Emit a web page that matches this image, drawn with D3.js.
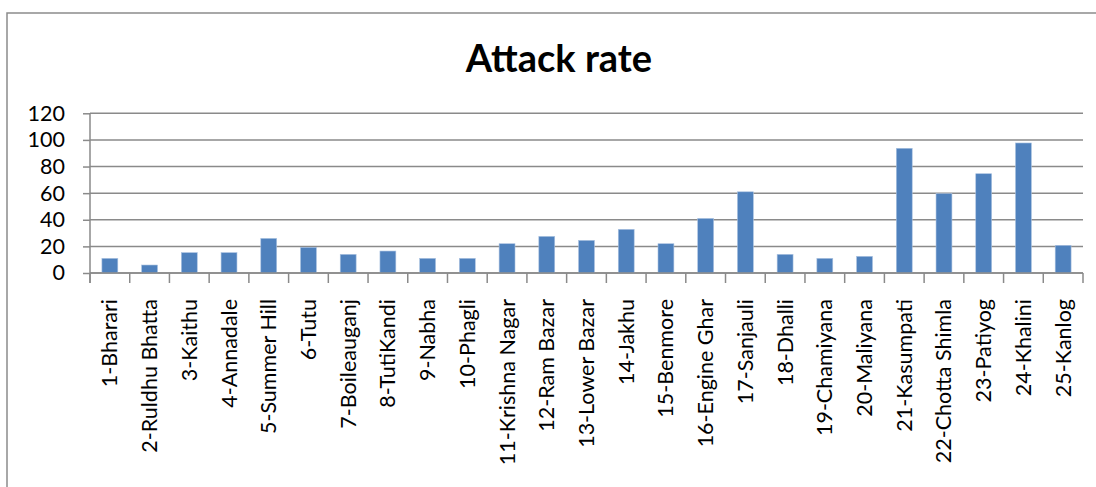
<!DOCTYPE html>
<html><head><meta charset="utf-8">
<script src="https://cdn.jsdelivr.net/npm/d3@7"></script>
<style>
html,body{margin:0;padding:0;background:#fff;}
svg{display:block;}
text{font-family:Lato, "Open Sans", sans-serif;fill:#000;}
</style></head>
<body><svg id="c" width="1096" height="487"></svg>
<script>
const title = "Attack rate";
const categories = ["1-Bharari","2-Ruldhu Bhatta","3-Kaithu","4-Annadale","5-Summer Hill","6-Tutu","7-Boileauganj","8-TutiKandi","9-Nabha","10-Phagli","11-Krishna Nagar","12-Ram Bazar","13-Lower Bazar","14-Jakhu","15-Benmore","16-Engine Ghar","17-Sanjauli","18-Dhalli","19-Chamiyana","20-Maliyana","21-Kasumpati","22-Chotta Shimla","23-Patiyog","24-Khalini","25-Kanlog"];
const values = [11,6,15.3,15.3,26,19.3,14,16.5,11,11,22,27.5,24.5,32.8,22,41,61,14,11,12.5,93.7,59.6,74.6,97.7,20.8];
const yTicks = [0,20,40,60,80,100,120];

const svg = d3.select("#c");
const L = 90, R = 1083, T = 113.3, B = 273;

// frame
svg.append("path").attr("d","M7,487 V13 H1096").attr("fill","none").attr("stroke","#8c8c8c").attr("stroke-width",1.5);

const x = d3.scaleBand().domain(categories).range([L,R]).paddingInner(0.6).paddingOuter(0.3);
const xb = d3.scaleBand().domain(categories).range([L,R]);
const y = d3.scaleLinear().domain([0,120]).range([B,T]);

// gridlines
svg.append("g").selectAll("line").data(yTicks).join("line")
  .attr("x1",L).attr("x2",R).attr("y1",d=>y(d)).attr("y2",d=>y(d))
  .attr("stroke","#8a8a8a").attr("stroke-width",1.5);

// y axis
const ya = svg.append("g").attr("transform",`translate(${L},0)`)
  .call(d3.axisLeft(y).tickValues(yTicks).tickSize(7).tickPadding(18).tickFormat(d3.format("d")));
ya.select(".domain").remove();
ya.selectAll("line").attr("stroke","#8a8a8a").attr("stroke-width",1.5);
ya.selectAll("text").style("font-size","21.5px").style("font-family","Lato, sans-serif").attr("fill","#000");
svg.append("line").attr("x1",L).attr("x2",L).attr("y1",T).attr("y2",B+10).attr("stroke","#8a8a8a").attr("stroke-width",1.5);

// bars
svg.append("g").selectAll("rect").data(values).join("rect")
  .attr("x",(d,i)=>x(categories[i])).attr("width",x.bandwidth())
  .attr("y",d=>y(d)).attr("height",d=>B-y(d))
  .attr("fill","#4f81bd").attr("stroke","#a9c1e0").attr("stroke-width",0.6);

// x axis ticks (between categories)
const xt = categories.map((c,i)=>xb(c)).concat([R]);
svg.append("g").selectAll("line").data(xt).join("line")
  .attr("x1",d=>d).attr("x2",d=>d).attr("y1",B).attr("y2",B+10)
  .attr("stroke","#8a8a8a").attr("stroke-width",1.5);
svg.append("line").attr("x1",L).attr("x2",R).attr("y1",B).attr("y2",B).attr("stroke","#8a8a8a").attr("stroke-width",1.5);

// x labels
svg.append("g").selectAll("text").data(categories).join("text")
  .attr("transform",d=>`translate(${xb(d)+xb.bandwidth()/2+7.5},299) rotate(-90)`)
  .attr("text-anchor","end").style("font-size","21.5px").text(d=>d);

svg.append("text").attr("x",559).attr("y",72).attr("text-anchor","middle")
  .style("font-size","38px").style("font-weight","bold").text(title);
</script></body></html>
